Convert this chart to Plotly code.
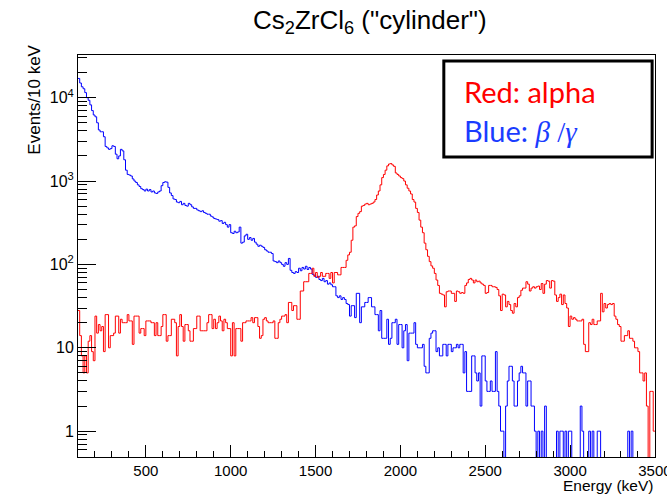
import numpy as np
import plotly.graph_objects as go

# Histogram binning (keV)
e_min, e_max, bin_width = 100, 3500, 10

# Events per 10 keV bin, alpha events (red)
alpha_counts = [
    28, 14, 8, 5, 8, 5, 12, 14, 9, 7,
    24, 15, 19, 16, 18, 9, 25, 25, 10, 14,
    14, 15, 24, 24, 15, 22, 20, 20, 20, 25,
    21, 21, 11, 24, 24, 24, 15, 17, 17, 14,
    21, 21, 21, 20, 20, 14, 20, 14, 14, 18,
    25, 25, 12, 14, 14, 22, 22, 20, 8, 18,
    25, 18, 12, 19, 19, 16, 12, 12, 17, 17,
    24, 24, 16, 16, 16, 16, 20, 25, 25, 17,
    22, 17, 20, 24, 21, 16, 22, 20, 17, 17,
    8, 20, 8, 17, 17, 17, 12, 20, 20, 21,
    21, 21, 23, 20, 23, 23, 18, 13, 14, 22,
    23, 21, 20, 20, 20, 21, 13, 13, 20, 22,
    24, 24, 25, 20, 35, 35, 28, 32, 32, 22,
    22, 48, 48, 62, 62, 62, 78, 78, 90, 72,
    80, 70, 72, 80, 72, 72, 78, 78, 68, 80,
    60, 80, 80, 75, 75, 92, 92, 92, 112, 130,
    140, 195, 280, 290, 375, 410, 430, 500, 510, 530,
    540, 520, 530, 540, 560, 600, 680, 760, 900, 1100,
    1200, 1350, 1520, 1600, 1620, 1560, 1500, 1250, 1200, 1150,
    1100, 1070, 1000, 900, 820, 760, 700, 600, 560, 470,
    420, 340, 280, 240, 180, 150, 125, 108, 96, 90,
    78, 65, 56, 45, 44, 43, 31, 47, 48, 48,
    45, 45, 36, 48, 47, 45, 46, 45, 56, 60,
    66, 68, 65, 60, 65, 62, 63, 60, 58, 56,
    45, 46, 56, 56, 54, 54, 53, 50, 42, 28,
    44, 43, 31, 36, 33, 28, 26, 34, 31, 40,
    42, 49, 52, 52, 62, 58, 48, 52, 54, 52,
    54, 55, 50, 59, 45, 58, 64, 63, 52, 64,
    63, 43, 36, 40, 44, 33, 43, 34, 30, 18,
    24, 22, 23, 22, 21, 21, 21, 22, 11, 9,
    9, 20, 19, 22, 19, 19, 21, 21, 45, 27,
    34, 30, 33, 34, 33, 34, 24, 22, 19, 18,
    12, 12, 14, 14, 16, 13, 13, 12, 10, 10,
    9, 5, 5, 4, 5, 2, 0, 3, 3, 1,
]

# Events per 10 keV bin, beta/gamma events (blue)
beta_gamma_counts = [
    17000, 15000, 13500, 12800, 11500, 10000, 9300, 8200, 7000, 6200,
    5900, 5000, 4100, 3900, 3900, 3400, 2600, 2500, 2400, 2450,
    2650, 2600, 2100, 1850, 2000, 2400, 2300, 1800, 1350, 1200,
    1180, 1150, 1060, 1000, 960, 900, 860, 810, 790, 760,
    800, 760, 790, 740, 760, 720, 710, 740, 760, 880,
    960, 980, 970, 840, 720, 670, 610, 600, 560, 550,
    570, 520, 540, 510, 500, 540, 520, 490, 470, 470,
    450, 440, 430, 440, 420, 410, 400, 400, 380, 370,
    355, 350, 345, 330, 335, 310, 320, 300, 280, 300,
    240, 235, 250, 240, 245, 280, 180, 185, 220, 230,
    200, 210, 195, 205, 185, 175, 165, 170, 165, 160,
    150, 145, 140, 140, 135, 110, 108, 105, 110, 105,
    100, 95, 105, 100, 118, 85, 80, 78, 82, 80,
    90, 84, 92, 88, 95, 87, 92, 88, 76, 74,
    70, 72, 66, 64, 68, 62, 64, 58, 60, 57,
    54, 54, 42, 40, 42, 38, 40, 38, 34, 33,
    24, 32, 32, 23, 45, 45, 20, 31, 31, 35,
    35, 40, 40, 31, 31, 25, 25, 16, 28, 13,
    13, 13, 22, 11, 13, 20, 20, 22, 11, 19,
    19, 10, 16, 19, 7, 15, 15, 15, 20, 11,
    10, 10, 10, 11, 6, 5, 5, 13, 15, 16,
    16, 9, 10, 8, 8, 11, 11, 8, 11, 11,
    9, 10, 10, 11, 10, 11, 11, 5, 9, 3,
    3, 3, 8, 8, 5, 4, 5, 2, 8, 8,
    4, 3, 3, 4, 3, 3, 9, 3, 2, 1,
    1, 0, 2, 4, 6, 6, 4, 2, 2, 4,
    5, 6, 5, 5, 2, 4, 4, 2, 2, 1,
    0, 1, 0, 1, 0, 2, 0, 0, 0, 0,
    0, 0, 1, 0, 1, 1, 0, 1, 0, 1,
    1, 0, 0, 0, 0, 0, 2, 1, 0, 0,
    0, 1, 0, 1, 0, 0, 1, 1, 0, 0,
    0, 0, 0, 0, 0, 0, 0, 0, 0, 0,
    0, 0, 0, 0, 1, 0, 1, 0, 0, 0,
    0, 0, 0, 0, 0, 0, 0, 0, 0, 0,
]

# Axis ticks
x_tick_vals = [500, 1000, 1500, 2000, 2500, 3000, 3500]
y_tick_vals = [1, 10, 100, 1000, 10000]
y_tick_text = ["1", "10", "10<sup>2</sup>", "10<sup>3</sup>", "10<sup>4</sup>"]

y_range = [0.49, 32500]
zero_floor = 0.05  # empty bins drop below the axis, as in a log-scale histogram


def step_outline(counts):
    c = np.asarray(counts, dtype=float)
    c = np.where(c > 0, c, zero_floor)
    edges = e_min + bin_width * np.arange(len(c) + 1)
    return edges, np.append(c, c[-1])


fig = go.Figure()
for counts, color in [(beta_gamma_counts, "#0000ff"), (alpha_counts, "#ff0000")]:
    xs, ys = step_outline(counts)
    fig.add_trace(go.Scatter(x=xs, y=ys, mode="lines", line_shape="hv",
                             line=dict(color=color, width=1), showlegend=False,
                             hoverinfo="skip"))

sans = "Liberation Sans, Arial, sans-serif"
axis_font = dict(family=sans, size=15, color="black")

fig.update_xaxes(range=[e_min, e_max + 0.5], tickvals=x_tick_vals, ticks="inside", ticklen=12,
                 tickcolor="black", tickwidth=1, showline=True, mirror=True,
                 linecolor="black", linewidth=1, showgrid=False, zeroline=False,
                 tickfont=axis_font, ticklabeloverflow="allow", automargin=False,
                 minor=dict(tick0=0, dtick=100, ticks="inside", ticklen=6, tickcolor="black",
                            showgrid=False))
fig.update_yaxes(type="log", range=[np.log10(y_range[0]), np.log10(y_range[1])],
                 tickvals=y_tick_vals, ticktext=y_tick_text, ticks="inside", ticklen=18,
                 tickcolor="black", tickwidth=1, showline=True, mirror=True,
                 linecolor="black", linewidth=1, showgrid=False, zeroline=False,
                 tickfont=dict(family=sans, size=16, color="black"), automargin=False,
                 minor=dict(dtick="D1", ticks="inside", ticklen=9, tickcolor="black",
                            showgrid=False))

# Caption box with coloured labels
fig.add_shape(type="rect", xref="paper", yref="paper", x0=0.634, x1=0.995, y0=0.746, y1=0.985,
              line=dict(color="black", width=3), fillcolor="white", layer="above")
legend_font = "Lato, Noto Sans, sans-serif"
fig.add_annotation(xref="paper", yref="paper", x=0.665, y=0.908, xanchor="left", yanchor="middle",
                   text="Red: alpha", showarrow=False,
                   font=dict(family=legend_font, size=29, color="#ff0000"))
fig.add_annotation(xref="paper", yref="paper", x=0.665, y=0.813, xanchor="left", yanchor="middle",
                   text="Blue: <span style='font-family:Liberation Serif'><i>β</i> /<i>γ</i></span>",
                   showarrow=False,
                   font=dict(family=legend_font, size=29, color="#1a3cff"))

# Title and axis titles
fig.add_annotation(xref="paper", yref="paper", x=0.506, y=1.083, xanchor="center", yanchor="middle",
                   text='Cs<sub>2</sub>ZrCl<sub>6</sub> ("cylinder")', showarrow=False,
                   font=dict(family=sans, size=26, color="black"))
fig.add_annotation(xref="paper", yref="paper", x=-0.075, y=1.03, xanchor="center", yanchor="top",
                   text="Events/10 keV", textangle=-90, showarrow=False,
                   font=dict(family=sans, size=17, color="black"))
fig.add_annotation(xref="paper", yref="paper", x=1.0, y=-0.07, xanchor="right", yanchor="middle",
                   text="Energy (keV)", showarrow=False,
                   font=dict(family=sans, size=15.5, color="black"))

fig.update_layout(width=667, height=494, margin=dict(l=78, r=12, t=55, b=37),
                  paper_bgcolor="white", plot_bgcolor="white")

fig.write_html("out.html")
